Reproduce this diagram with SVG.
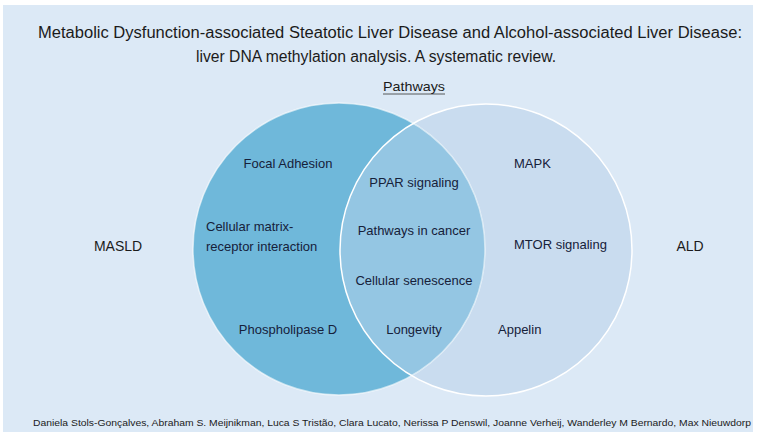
<svg xmlns="http://www.w3.org/2000/svg" width="758" height="437" viewBox="0 0 758 437">
<defs>
<style>
.t{font-family:"Liberation Sans",Arial,sans-serif;fill:#1b1b1b}
.title{font-size:16px}
.item{font-size:13px;fill:#16213a}
.side{font-size:14px}
.auth{font-size:9.5px}
.ring{fill:none;stroke:#ffffff;stroke-width:1.5}
</style>
<clipPath id="clipL"><circle cx="339" cy="249" r="146"/></clipPath>
</defs>
<rect x="0" y="0" width="758" height="437" fill="#ffffff"/>
<rect x="3" y="5" width="750" height="427" fill="#dce9f6"/>
<g id="title">
<text class="t title" x="390" y="38" text-anchor="middle" textLength="704" lengthAdjust="spacingAndGlyphs">Metabolic Dysfunction-associated Steatotic Liver Disease and Alcohol-associated Liver Disease:</text>
<text class="t title" x="376" y="62" text-anchor="middle" textLength="360" lengthAdjust="spacingAndGlyphs">liver DNA methylation analysis. A systematic review.</text>
</g>
<g id="pathways-label">
<text class="t" x="414" y="91" text-anchor="middle" font-size="13" textLength="62" lengthAdjust="spacingAndGlyphs">Pathways</text>
<line x1="383" y1="94" x2="445" y2="94" stroke="#333" stroke-width="0.8"/>
</g>
<g id="venn">
<circle id="circle-ald" cx="486" cy="250" r="146" fill="#c9dcef"/>
<circle id="circle-masld" cx="339" cy="249" r="146" fill="#6fb8da"/>
<circle cx="486" cy="250" r="146" fill="#94c6e3" clip-path="url(#clipL)"/>
<circle class="ring" cx="339" cy="249" r="146" stroke-opacity="0.6"/>
<circle class="ring" cx="486" cy="250" r="146"/>
</g>
<g id="masld-items">
<text class="t item" x="288" y="168" text-anchor="middle">Focal Adhesion</text>
<text class="t item" x="206" y="231">Cellular matrix-</text>
<text class="t item" x="206" y="251">receptor interaction</text>
<text class="t item" x="288" y="334" text-anchor="middle">Phospholipase D</text>
</g>
<g id="shared-items">
<text class="t item" x="414" y="187" text-anchor="middle">PPAR signaling</text>
<text class="t item" x="414" y="235" text-anchor="middle">Pathways in cancer</text>
<text class="t item" x="414" y="285" text-anchor="middle">Cellular senescence</text>
<text class="t item" x="414" y="334" text-anchor="middle">Longevity</text>
</g>
<g id="ald-items">
<text class="t item" x="514" y="168">MAPK</text>
<text class="t item" x="514" y="249">MTOR signaling</text>
<text class="t item" x="498" y="334">Appelin</text>
</g>
<g id="masld"><text class="t side" x="118" y="251" text-anchor="middle">MASLD</text></g>
<g id="ald"><text class="t side" x="690" y="251" text-anchor="middle">ALD</text></g>
<g id="connectors"></g>
<g id="authors">
<text class="t auth" x="33" y="426" textLength="718" lengthAdjust="spacingAndGlyphs">Daniela Stols-Gonçalves, Abraham S. Meijnikman, Luca S Tristão, Clara Lucato, Nerissa P Denswil, Joanne Verheij, Wanderley M Bernardo, Max Nieuwdorp</text>
</g>
</svg>
